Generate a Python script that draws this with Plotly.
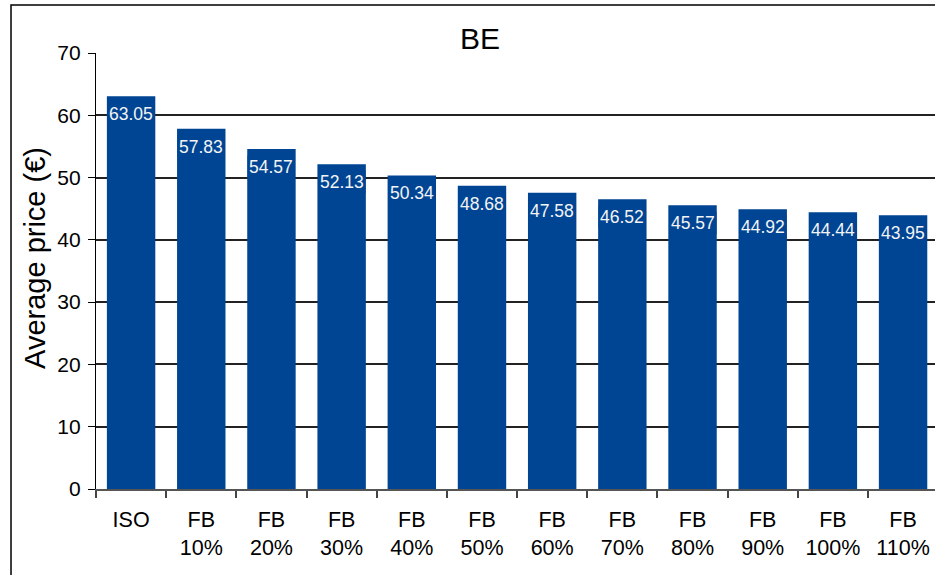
import plotly.graph_objects as go

# 資料
categories = ['ISO', 'FB<br>10%', 'FB<br>20%', 'FB<br>30%', 'FB<br>40%', 'FB<br>50%',
              'FB<br>60%', 'FB<br>70%', 'FB<br>80%', 'FB<br>90%', 'FB<br>100%', 'FB<br>110%']
avg_price = [63.05, 57.83, 54.57, 52.13, 50.34, 48.68, 47.58, 46.52, 45.57, 44.92, 44.44, 43.95]
y_ticks = [0, 10, 20, 30, 40, 50, 60, 70]

BAR_COLOR = '#004593'
FONT = 'Arial, Liberation Sans, sans-serif'

fig = go.Figure()

fig.add_trace(go.Bar(
    x=categories,
    y=avg_price,
    marker=dict(color=BAR_COLOR, line=dict(width=0)),
    hoverinfo='skip'
))

# 柱內數值標籤
for cat, val in zip(categories, avg_price):
    fig.add_annotation(
        x=cat, y=val, text=f'{val:.2f}',
        showarrow=False, yanchor='middle', yshift=-18,
        font=dict(family=FONT, size=17.5, color='#F4F4F4'),
        bgcolor=BAR_COLOR, borderpad=1
    )

# Y 軸標題
fig.add_annotation(
    x=(35 - 96) / 839, y=0.53, xref='paper', yref='paper',
    text='Average price (€)', textangle=-90, showarrow=False,
    xanchor='center', yanchor='middle',
    font=dict(family=FONT, size=29, color='black')
)

# 外框
fig.add_shape(
    type='rect', xref='paper', yref='paper',
    x0=-0.1013, x1=1.05, y0=-0.3, y1=1.110,
    line=dict(color='black', width=1.5), layer='above'
)

fig.update_layout(
    width=935, height=575,
    title=dict(text='BE', x=480 / 935, y=1 - 38 / 575, xanchor='center', yanchor='middle',
               font=dict(family=FONT, size=30, color='black')),
    plot_bgcolor='white',
    paper_bgcolor='white',
    font=dict(family=FONT, size=21, color='black'),
    margin=dict(l=96, r=0, t=53, b=86, autoexpand=False),
    bargap=0.31,
    showlegend=False
)

fig.update_xaxes(
    range=[-0.5, 11.455], automargin=False,
    tickson='boundaries', ticks='outside', ticklen=7, tickcolor='#444', tickwidth=1.5,
    showline=True, linecolor='#555', linewidth=2,
    showgrid=False, ticklabelstandoff=10,
    tickfont=dict(family=FONT, size=21.5, color='black')
)

fig.update_yaxes(
    range=[0, 70], tickvals=y_ticks, automargin=False,
    ticks='outside', ticklen=7, tickcolor='black', tickwidth=1.2,
    showline=True, linecolor='black', linewidth=1.2,
    showgrid=True, gridcolor='#222', gridwidth=1.6,
    zeroline=False, ticklabelstandoff=3,
    tickfont=dict(family=FONT, size=21, color='black')
)

fig.write_html('out.html', config={'displayModeBar': False},
               post_script="document.body.style.margin='0';")
